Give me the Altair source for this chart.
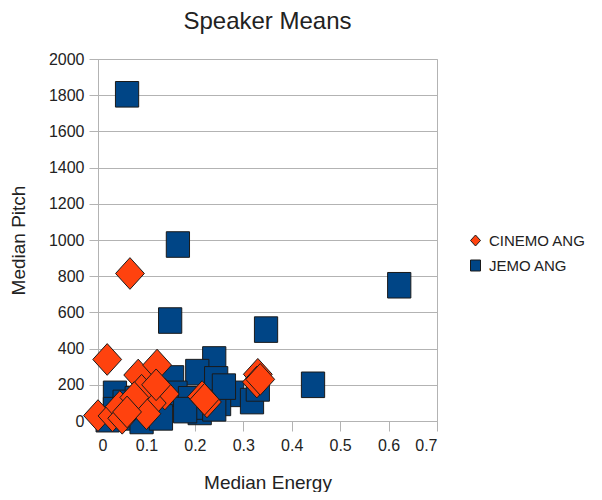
import altair as alt
import pandas as pd

series_names = ["CINEMO ANG", "JEMO ANG"]

cinemo_energy = [0.019, 0.066, 0.083, 0.122, 0.138, 0.068, 0.111, 0.000, 0.030, 0.215,
                 0.225, 0.330, 0.328, 0.045, 0.090, 0.100, 0.050, 0.075, 0.335, 0.220,
                 0.060, 0.120]
cinemo_pitch = [340, 815, 254, 309, 149, 77, 99, 30, 28, 135,
                105, 258, 215, 80, 170, 40, 15, 130, 230, 120,
                50, 200]

jemo_energy = [0.060, 0.165, 0.149, 0.347, 0.622, 0.444, 0.240, 0.205, 0.244, 0.277,
               0.318, 0.250, 0.210, 0.153, 0.160, 0.035, 0.100, 0.035, 0.055, 0.080,
               0.120, 0.190, 0.220, 0.240, 0.260, 0.330, 0.045, 0.020, 0.090, 0.180,
               0.130]
jemo_pitch = [1805, 975, 555, 505, 750, 200, 340, 270, 230, 150,
              110, 100, 50, 235, 150, 150, 30, 60, 100, 120,
              80, 120, 80, 70, 190, 180, 20, 10, 0, 60,
              20]

x_ticks = [0, 0.1, 0.2, 0.3, 0.4, 0.5, 0.6, 0.7]
y_ticks = list(range(0, 2001, 200))

df = pd.DataFrame({
    "energy": jemo_energy + cinemo_energy,
    "pitch": jemo_pitch + cinemo_pitch,
    "series": [series_names[1]] * len(jemo_energy) + [series_names[0]] * len(cinemo_energy),
})

diamond_path = "M-1,0L0,-1.1L1,0L0,1.1Z"
square_path = "M-1,-1.1L1,-1.1L1,1.1L-1,1.1Z"

FONT = "Liberation Sans"
GRID = "#b3b3b3"

legend = alt.Legend(title=None, orient="none", legendX=370, legendY=174,
                    symbolSize=100, rowPadding=9, labelFontSize=15,
                    labelFont=FONT, labelColor="#222", padding=0,
                    symbolStrokeColor="#1a1a1a", symbolStrokeWidth=1, labelOffset=6,
                    labelLimit=200)

base = alt.Chart(df).encode(
    x=alt.X("energy:Q",
            scale=alt.Scale(domain=[0, 0.7], nice=False, zero=True),
            axis=alt.Axis(title="Median Energy", values=x_ticks, format=".1~f",
                          grid=False, domainColor=GRID, tickColor=GRID, tickSize=10,
                          labelPadding=6, titlePadding=20)),
    y=alt.Y("pitch:Q",
            scale=alt.Scale(domain=[0, 2000], nice=False),
            axis=alt.Axis(title="Median Pitch", values=y_ticks, format="d",
                          grid=True, gridColor=GRID, domainColor=GRID, tickColor=GRID,
                          tickSize=9, labelPadding=5, titlePadding=20)),
    color=alt.Color("series:N",
                    scale=alt.Scale(domain=series_names, range=["#ff420e", "#004586"]),
                    legend=legend),
    shape=alt.Shape("series:N",
                    scale=alt.Scale(domain=series_names, range=[diamond_path, square_path]),
                    legend=legend),
)

squares = base.transform_filter(alt.datum.series == series_names[1]).mark_point(
    filled=True, opacity=1, stroke="#1a1a1a", strokeWidth=1, size=540)
diamonds = base.transform_filter(alt.datum.series == series_names[0]).mark_point(
    filled=True, opacity=1, stroke="#1a1a1a", strokeWidth=1, size=830)

chart = alt.layer(squares, diamonds).properties(
    width=339,
    height=362,
    title=alt.TitleParams("Speaker Means", fontSize=24, font=FONT, fontWeight="normal",
                          color="#222", anchor="middle", offset=17),
    autosize=alt.AutoSizeParams(type="none"),
    padding={"left": 90, "top": 51, "right": 157, "bottom": 71},
).configure_view(
    stroke=GRID, strokeWidth=1
).configure_axis(
    labelFont=FONT, titleFont=FONT, labelFontSize=16, titleFontSize=19,
    labelColor="#222", titleColor="#222", titleFontWeight="normal"
)

chart.save("out.html", embed_options={"renderer": "svg", "actions": False})
